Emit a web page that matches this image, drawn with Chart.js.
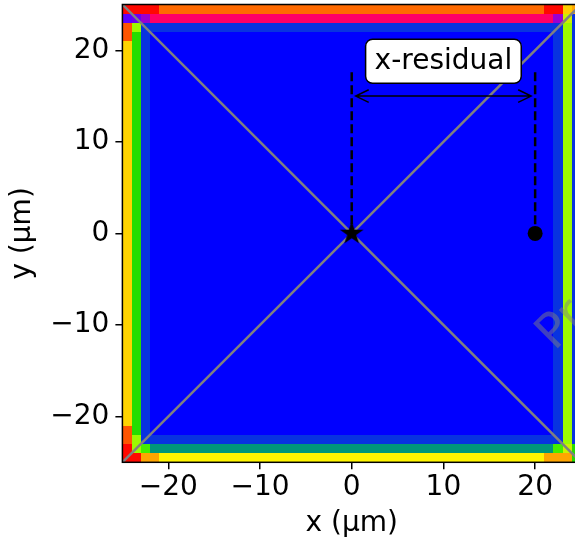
<!DOCTYPE html>
<html>
<head>
<meta charset="utf-8">
<script src="https://cdn.jsdelivr.net/npm/chart.js@4.4.1/dist/chart.umd.min.js"></script>
<style>
  html, body { margin: 0; padding: 0; background: #fff; overflow: hidden; }
  #wrap { position: relative; width: 600px; height: 539px; }
</style>
</head>
<body>
<div id="wrap"><canvas id="c" width="600" height="539"></canvas></div>
<script>
'use strict';

// axes
var axisMin = -25;
var axisMax = 25;
var xTickValues = [-20, -10, 0, 10, 20];
var yTickValues = [-20, -10, 0, 10, 20];

// heat map, 1 µm cells, rows listed from the top (y = 25) down
var heatLeft = -25;
var heatTop = 25;
var heatCell = 1;
var cellColours = {
  B: '#0000ff', b: '#0833e0', Y: '#ffd400', W: '#fff500', G: '#26dd00',
  L: '#9cfa00', l: '#ccf000', g: '#44ee00', T: '#00977a', O: '#ff6a00',
  P: '#ff0066', R: '#ff0800', r: '#ff5500', V: '#5a00ff', v: '#6a00f0',
  U: '#9a00d0', A: '#ffa500', y: '#ffcc00'
};
// each row: runs of [colour key, number of cells]
var heatRowPatterns = [
  [['R', 4], ['O', 42], ['R', 2], ['y', 1], ['A', 1]],
  [['V', 1], ['v', 1], ['U', 1], ['P', 44], ['U', 1], ['l', 1], ['b', 1]],
  [['r', 1], ['L', 1], ['b', 46], ['L', 1], ['b', 1]],
  [['r', 1], ['G', 1], ['b', 1], ['B', 44], ['b', 1], ['L', 1], ['b', 1]],
  [['Y', 1], ['G', 1], ['b', 1], ['B', 44], ['b', 1], ['L', 1], ['b', 1]],
  [['r', 1], ['G', 1], ['b', 1], ['B', 44], ['b', 1], ['L', 1], ['b', 1]],
  [['r', 1], ['L', 1], ['b', 46], ['L', 1], ['b', 1]],
  [['R', 1], ['L', 1], ['g', 1], ['T', 44], ['g', 1], ['l', 1], ['G', 1]],
  [['R', 2], ['A', 2], ['W', 42], ['A', 3], ['G', 1]]
];
var heatRowRepeats = [1, 1, 1, 1, 42, 1, 1, 1, 1];

// overlay marks
var diagonalDown = [{ x: -25, y: 25 }, { x: 25, y: -25 }];
var diagonalUp = [{ x: -25, y: -25 }, { x: 25, y: 25 }];
var refLineStar = [{ x: 0, y: 17.6 }, { x: 0, y: 0 }];
var refLineDot = [{ x: 20, y: 17.6 }, { x: 20, y: 0 }];
var arrowSpan = [{ x: 0, y: 15 }, { x: 20, y: 15 }];
var starPoint = [{ x: 0, y: 0 }];
var dotPoint = [{ x: 20, y: 0 }];
var labelText = 'x-residual';
var labelAnchor = { x: 10, y: 18.8 };
var watermarkText = 'Preliminary';
var watermarkAnchor = { x: 22.1, y: -12.9 };

var FONT = "'DejaVu Sans', 'Liberation Sans', sans-serif";

function fmtTick(v) {
  return v < 0 ? '\u2212' + Math.abs(v) : String(v);
}

function makeStar(rOuter) {
  var c = document.createElement('canvas');
  var size = Math.ceil(rOuter * 2 + 2);
  c.width = size; c.height = size;
  var g = c.getContext('2d');
  var cx = size / 2, cy = size / 2, rIn = rOuter * 0.382;
  g.beginPath();
  for (var i = 0; i < 10; i++) {
    var r = i % 2 === 0 ? rOuter : rIn;
    var a = -Math.PI / 2 + i * Math.PI / 5;
    var px = cx + r * Math.cos(a), py = cy + r * Math.sin(a);
    if (i === 0) g.moveTo(px, py); else g.lineTo(px, py);
  }
  g.closePath();
  g.fillStyle = '#000';
  g.fill();
  return c;
}

var heatmapPlugin = {
  id: 'heatmap',
  beforeDatasetsDraw: function (chart) {
    var ctx = chart.ctx, xs = chart.scales.x, ys = chart.scales.y, a = chart.chartArea;
    ctx.save();
    ctx.beginPath();
    ctx.rect(a.left, a.top, a.right - a.left, a.bottom - a.top);
    ctx.clip();
    var yTop = heatTop;
    heatRowPatterns.forEach(function (runs, i) {
      for (var k = 0; k < heatRowRepeats[i]; k++) {
        var py0 = Math.round(ys.getPixelForValue(yTop));
        var py1 = Math.round(ys.getPixelForValue(yTop - heatCell));
        var xl = heatLeft;
        runs.forEach(function (run) {
          var px0 = Math.round(xs.getPixelForValue(xl));
          var px1 = Math.round(xs.getPixelForValue(xl + run[1] * heatCell));
          ctx.fillStyle = cellColours[run[0]];
          ctx.fillRect(px0, py0, px1 - px0, py1 - py0);
          xl += run[1] * heatCell;
        });
        yTop -= heatCell;
      }
    });
    ctx.restore();
  }
};

var overlayPlugin = {
  id: 'overlay',
  afterDatasetsDraw: function (chart) {
    var ctx = chart.ctx, xs = chart.scales.x, ys = chart.scales.y, a = chart.chartArea;

    // frame
    ctx.save();
    ctx.strokeStyle = '#000';
    ctx.lineWidth = 1.5;
    ctx.strokeRect(a.left, a.top, a.right - a.left, a.bottom - a.top);
    ctx.restore();

    // double arrow
    var ax0 = xs.getPixelForValue(arrowSpan[0].x) + 4;
    var ax1 = xs.getPixelForValue(arrowSpan[1].x) - 4;
    var ay = ys.getPixelForValue(arrowSpan[0].y);
    ctx.save();
    ctx.strokeStyle = '#000';
    ctx.lineWidth = 1.5;
    ctx.beginPath();
    ctx.moveTo(ax0, ay); ctx.lineTo(ax1, ay);
    ctx.moveTo(ax0 + 13, ay - 6.3); ctx.lineTo(ax0, ay); ctx.lineTo(ax0 + 13, ay + 6.3);
    ctx.moveTo(ax1 - 13, ay - 6.3); ctx.lineTo(ax1, ay); ctx.lineTo(ax1 - 13, ay + 6.3);
    ctx.stroke();
    ctx.restore();

    // label box
    var lx = xs.getPixelForValue(labelAnchor.x);
    var ly = ys.getPixelForValue(labelAnchor.y);
    ctx.save();
    ctx.font = '28px ' + FONT;
    var tw = ctx.measureText(labelText).width;
    var bw = tw + 18, bh = 44, r = 7;
    var bx = lx - bw / 2, by = ly - bh / 2;
    ctx.beginPath();
    ctx.moveTo(bx + r, by);
    ctx.arcTo(bx + bw, by, bx + bw, by + bh, r);
    ctx.arcTo(bx + bw, by + bh, bx, by + bh, r);
    ctx.arcTo(bx, by + bh, bx, by, r);
    ctx.arcTo(bx, by, bx + bw, by, r);
    ctx.closePath();
    ctx.fillStyle = '#fff';
    ctx.fill();
    ctx.strokeStyle = '#000';
    ctx.lineWidth = 1.5;
    ctx.stroke();
    ctx.fillStyle = '#000';
    ctx.textAlign = 'center';
    ctx.textBaseline = 'alphabetic';
    ctx.fillText(labelText, lx, ly + 8);
    ctx.restore();

    // watermark
    var wx = xs.getPixelForValue(watermarkAnchor.x);
    var wy = ys.getPixelForValue(watermarkAnchor.y);
    ctx.save();
    ctx.beginPath();
    ctx.rect(a.left, a.top, a.right - a.left, a.bottom - a.top);
    ctx.clip();
    ctx.translate(wx, wy);
    ctx.rotate(-Math.PI / 4);
    ctx.font = '48px ' + FONT;
    ctx.fillStyle = 'rgba(128,128,128,0.5)';
    ctx.textAlign = 'left';
    ctx.textBaseline = 'alphabetic';
    ctx.fillText(watermarkText, 0, 0);
    ctx.restore();
  }
};

Chart.defaults.font.family = FONT;
Chart.defaults.color = '#000';

var starImg = makeStar(12.5);

new Chart(document.getElementById('c').getContext('2d'), {
  type: 'scatter',
  data: {
    datasets: [
      { label: 'star', data: starPoint, pointStyle: starImg, pointRadius: 12, showLine: false },
      { label: 'dot', data: dotPoint, pointStyle: 'circle', pointRadius: 7.5,
        backgroundColor: '#000', borderColor: '#000', borderWidth: 0, showLine: false },
      { label: 'ref0', data: refLineStar, showLine: true, borderColor: '#000', borderWidth: 2.5,
        borderDash: [9, 4], pointRadius: 0, fill: false },
      { label: 'ref20', data: refLineDot, showLine: true, borderColor: '#000', borderWidth: 2.5,
        borderDash: [9, 4], pointRadius: 0, fill: false },
      { label: 'diag1', data: diagonalDown, showLine: true, borderColor: '#808080', borderWidth: 2.5,
        pointRadius: 0, fill: false },
      { label: 'diag2', data: diagonalUp, showLine: true, borderColor: '#808080', borderWidth: 2.5,
        pointRadius: 0, fill: false }
    ]
  },
  options: {
    responsive: false,
    animation: false,
    events: [],
    layout: { autoPadding: false, padding: { top: 4.5, right: 19, bottom: 0, left: 0 } },
    plugins: { legend: { display: false }, tooltip: { enabled: false } },
    scales: {
      x: {
        type: 'linear', position: 'bottom', min: axisMin, max: axisMax,
        afterBuildTicks: function (s) { s.ticks = xTickValues.map(function (v) { return { value: v }; }); },
        afterFit: function (s) { s.height = 76.7; s.paddingLeft = 0; s.paddingRight = 0; },
        border: { display: false },
        grid: { drawOnChartArea: false, drawTicks: true, tickLength: 7, color: '#000', lineWidth: 1.5 },
        ticks: { font: { size: 28 }, color: '#000', padding: 2, maxRotation: 0, autoSkip: false,
          callback: function (v) { return fmtTick(v); } },
        title: { display: true, text: 'x (\u00b5m)', font: { size: 28 }, color: '#000',
          padding: { top: 0, bottom: -2 } }
      },
      y: {
        type: 'linear', position: 'left', min: axisMin, max: axisMax,
        afterBuildTicks: function (s) { s.ticks = yTickValues.map(function (v) { return { value: v }; }); },
        afterFit: function (s) { s.width = 122.4; s.paddingTop = 0; s.paddingBottom = 0; },
        border: { display: false },
        grid: { drawOnChartArea: false, drawTicks: true, tickLength: 7, color: '#000', lineWidth: 1.5 },
        ticks: { font: { size: 28 }, color: '#000', padding: 6, autoSkip: false,
          callback: function (v) { return fmtTick(v); } },
        title: { display: true, text: 'y (\u00b5m)', font: { size: 28 }, color: '#000',
          padding: { top: 6, bottom: 0 } }
      }
    }
  },
  plugins: [heatmapPlugin, overlayPlugin]
});
</script>
</body>
</html>
